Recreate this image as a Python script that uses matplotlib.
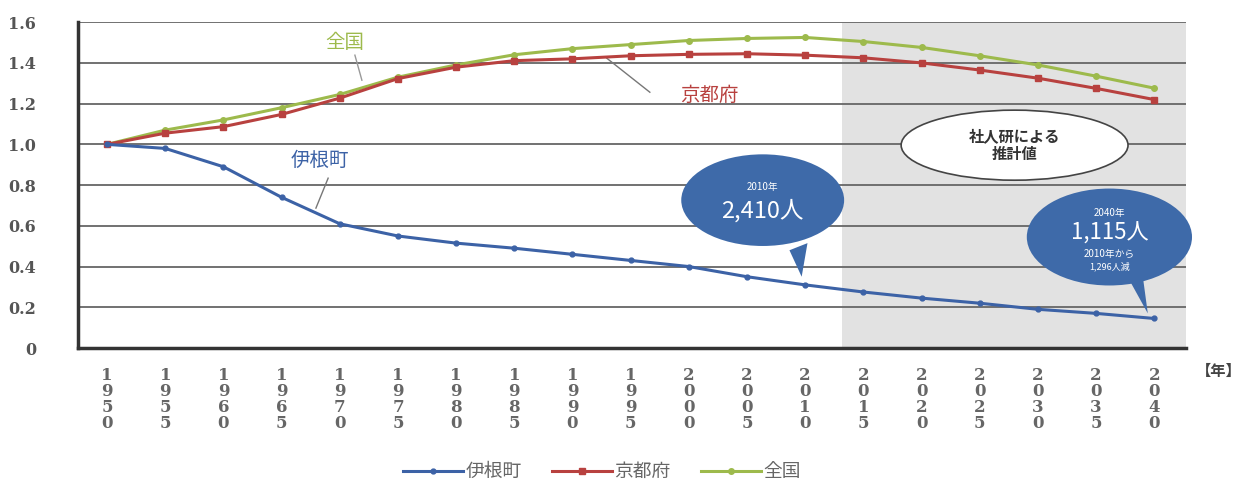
import matplotlib
matplotlib.use('Agg')
import matplotlib.pyplot as plt
from matplotlib.patches import Ellipse, Polygon
import numpy as np

plt.rcParams['font.family'] = ['Noto Sans CJK JP', 'DejaVu Sans']

years = [1950, 1955, 1960, 1965, 1970, 1975, 1980, 1985, 1990, 1995,
         2000, 2005, 2010, 2015, 2020, 2025, 2030, 2035, 2040]
ine = [1.00, 0.98, 0.89, 0.74, 0.61, 0.55, 0.515, 0.49, 0.46, 0.43,
       0.40, 0.35, 0.31, 0.275, 0.245, 0.22, 0.19, 0.17, 0.145]
kyoto = [1.00, 1.055, 1.087, 1.147, 1.227, 1.323, 1.379, 1.411, 1.42, 1.435,
         1.442, 1.445, 1.438, 1.425, 1.40, 1.365, 1.325, 1.275, 1.22]
zenkoku = [1.00, 1.07, 1.12, 1.18, 1.245, 1.33, 1.39, 1.44, 1.47, 1.49,
           1.51, 1.52, 1.525, 1.505, 1.476, 1.435, 1.39, 1.335, 1.276]
yticks = [0, 0.2, 0.4, 0.6, 0.8, 1.0, 1.2, 1.4, 1.6]
ytick_labels = ['0', '0.2', '0.4', '0.6', '0.8', '1.0', '1.2', '1.4', '1.6']

blue = '#3c62a6'
red = '#b8413f'
green = '#9dba4c'
bubble = '#3e6aa9'

fig = plt.figure(figsize=(12.46, 4.82), dpi=100)
ax = fig.add_axes([0.0626, 0.278, 0.8894, 0.676])

x = np.arange(len(years))
ax.axvspan(12.63, 18.6, color='#e2e2e2', zorder=0, lw=0)
for v in yticks[1:]:
    ax.axhline(v, color='#666666', lw=1.3, zorder=1)

ax.plot(x, zenkoku, color=green, lw=2.2, marker='o', ms=4, zorder=3, label='全国')
ax.plot(x, kyoto, color=red, lw=2.2, marker='s', ms=4.5, zorder=3, label='京都府')
ax.plot(x, ine, color=blue, lw=2.2, marker='o', ms=3.5, zorder=4, label='伊根町')

ax.set_xlim(-0.5, 18.55)
ax.set_ylim(0, 1.6)
ax.set_yticks(yticks)
ax.set_yticklabels(ytick_labels, family='DejaVu Serif', fontsize=11.5,
                   color='#555555', fontweight='bold')
ax.set_xticks(x)
ax.set_xticklabels(['\n'.join(str(y)) for y in years], family='DejaVu Serif',
                   fontsize=12, fontweight='bold', color='#666666',
                   linespacing=0.92, va='top')
ax.tick_params(axis='y', length=0, pad=30)
ax.tick_params(axis='x', length=0, pad=14)
for s in ['top', 'right']:
    ax.spines[s].set_visible(False)
for s in ['left', 'bottom']:
    ax.spines[s].set_color('#333333')
    ax.spines[s].set_linewidth(2.5)

ax.text(1.009, -0.072, '【年】', transform=ax.transAxes,
        fontsize=11, color='#444444', fontweight='bold', va='center', ha='left')

# series labels
ax.text(4.09, 1.50, '全国', color=green, fontsize=14, ha='center', va='center')
ax.plot([4.26, 4.38], [1.438, 1.315], color='#999999', lw=1, zorder=2)
ax.text(10.36, 1.24, '京都府', color=red, fontsize=14, ha='center', va='center')
ax.plot([8.59, 9.33], [1.423, 1.256], color='#777777', lw=1, zorder=2)
ax.text(3.66, 0.92, '伊根町', color=blue, fontsize=14, ha='center', va='center')
ax.plot([3.80, 3.59], [0.834, 0.687], color='#777777', lw=1, zorder=2)

# estimate note
ax.add_patch(Ellipse((15.6, 0.996), 3.9, 0.344, facecolor='white',
                     edgecolor='#444444', lw=1.2, zorder=5))
ax.text(15.6, 0.996, '社人研による\n推計値', ha='center', va='center',
        fontsize=11, fontweight='bold', color='#333333', linespacing=1.2, zorder=6)

# 2010 bubble
ax.add_patch(Polygon([[11.73, 0.48], [12.04, 0.515], [11.94, 0.35]],
                     closed=True, facecolor=bubble, edgecolor='none', zorder=5))
ax.add_patch(Ellipse((11.27, 0.726), 2.8, 0.45, facecolor=bubble,
                     edgecolor='none', zorder=5))
ax.text(11.27, 0.79, '2010年', color='white', fontsize=7, ha='center', va='center', zorder=6)
ax.text(11.27, 0.675, '2,410人', color='white', fontsize=17, ha='center', va='center', zorder=6)

# 2040 bubble
ax.add_patch(Polygon([[17.6, 0.32], [17.8, 0.36], [17.89, 0.17]],
                     closed=True, facecolor=bubble, edgecolor='none', zorder=5))
ax.add_patch(Ellipse((17.23, 0.545), 2.84, 0.476, facecolor=bubble,
                     edgecolor='none', zorder=5, clip_on=False))
ax.text(17.23, 0.665, '2040年', color='white', fontsize=7, ha='center', va='center', zorder=6)
ax.text(17.23, 0.565, '1,115人', color='white', fontsize=16, ha='center', va='center', zorder=6)
ax.text(17.23, 0.462, '2010年から', color='white', fontsize=7, ha='center', va='center', zorder=6)
ax.text(17.23, 0.40, '1,296人減', color='white', fontsize=6.5, ha='center', va='center', zorder=6)

handles, labels = ax.get_legend_handles_labels()
order = [2, 1, 0]
leg = fig.legend([handles[i] for i in order], [labels[i] for i in order],
                 loc='center', bbox_to_anchor=(0.483, 0.021), ncol=3, frameon=False,
                 fontsize=13.5, handlelength=3.2, columnspacing=1.6, handletextpad=0.15)
for t in leg.get_texts():
    t.set_color('#666666')

fig.savefig('out.png', dpi=100)
